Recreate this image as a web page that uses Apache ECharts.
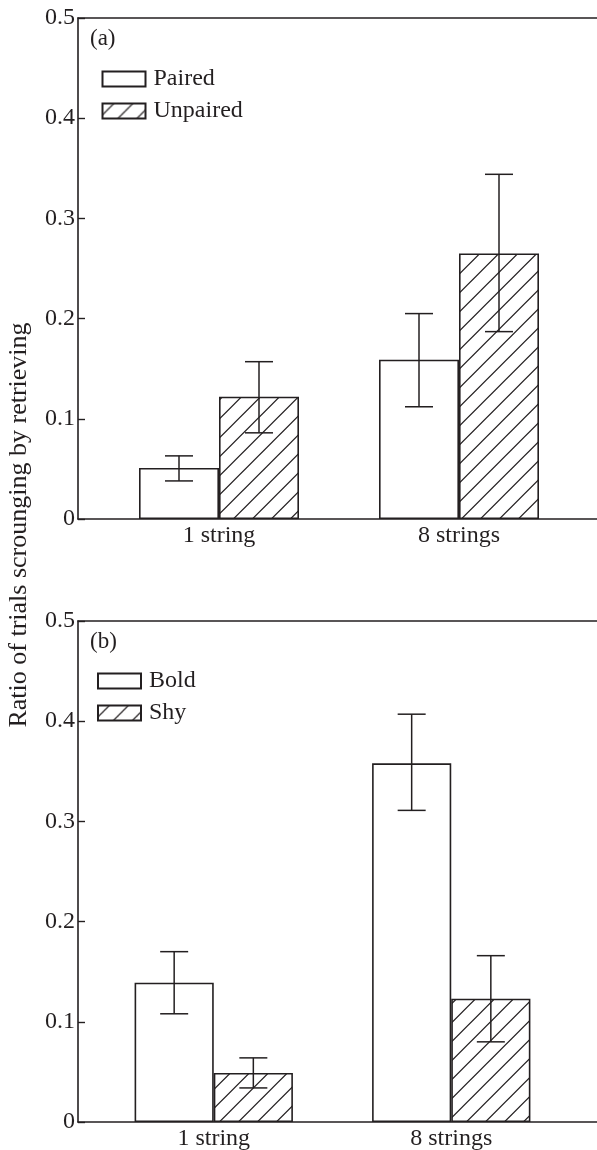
<!DOCTYPE html>
<html><head><meta charset="utf-8">
<script src="https://cdn.jsdelivr.net/npm/echarts@6/dist/echarts.min.js"></script>
<style>html,body{margin:0;padding:0;background:#fff}#c{width:597px;height:1150px}</style>
</head><body><div id="c"></div>
<script>
// ---- data ----
const categories = ['1 string', '8 strings'];
const pairedMean   = [0.051, 0.159];
const pairedLow    = [0.038, 0.112];
const pairedHigh   = [0.063, 0.205];
const unpairedMean = [0.122, 0.265];
const unpairedLow  = [0.086, 0.187];
const unpairedHigh = [0.157, 0.344];
const boldMean = [0.139, 0.358];
const boldLow  = [0.108, 0.311];
const boldHigh = [0.170, 0.407];
const shyMean  = [0.049, 0.123];
const shyLow   = [0.034, 0.080];
const shyHigh  = [0.064, 0.166];
const yMin = 0, yMax = 0.5, yInterval = 0.1;
const panelLabels = ['(a)', '(b)'];
const yTitle = 'Ratio of trials scrounging by retrieving';

// ---- style ----
const INK = '#231f20';
const FONT = '"Liberation Serif", "Times New Roman", serif';
const BAR_RATIO = 1 / 3;

function hatchCanvas() {
  const s = 19, k = 11.3;
  const c = document.createElement('canvas');
  c.width = s; c.height = s;
  const g = c.getContext('2d');
  g.fillStyle = '#fff'; g.fillRect(0, 0, s, s);
  g.strokeStyle = INK; g.lineWidth = 1.2;
  g.beginPath();
  [k - s, k, k + s, k + 2 * s].forEach(off => {
    g.moveTo(-3, off + 3); g.lineTo(off + 3, -3);
  });
  g.stroke();
  return c;
}
const hatch = { image: hatchCanvas(), repeat: 'repeat' };

const panels = [
  { top: 18, barLeft: 99, barWidth: 480, names: ['Paired', 'Unpaired'],
    mean: [pairedMean, unpairedMean], low: [pairedLow, unpairedLow], high: [pairedHigh, unpairedHigh],
    legendLeft: 101.5, legendTop: 67 },
  { top: 621, barLeft: 95, barWidth: 475, names: ['Bold', 'Shy'],
    mean: [boldMean, shyMean], low: [boldLow, shyLow], high: [boldHigh, shyHigh],
    legendLeft: 97, legendTop: 669 }
];
const PANEL_H = 501;

const grid = [], xAxis = [], yAxis = [], series = [], legend = [], graphic = [];
panels.forEach((p, pi) => {
  const gBars = grid.length;
  grid.push({ left: p.barLeft, width: p.barWidth, top: p.top, height: PANEL_H, outerBoundsMode: 'none' });
  const gFrame = grid.length;
  grid.push({ left: 78, right: 0, top: p.top, height: PANEL_H, outerBoundsMode: 'none' });

  const xBars = xAxis.length;
  xAxis.push({ gridIndex: gBars, type: 'category', data: categories,
    axisLine: { show: false }, axisTick: { show: false },
    axisLabel: { fontFamily: FONT, fontSize: 24, color: INK, margin: 5 } });
  ['bottom', 'top'].forEach(pos => {
    xAxis.push({ gridIndex: gFrame, type: 'value', min: 0, max: 1, position: pos,
      axisLine: { show: true, lineStyle: { color: INK, width: 1.6 } },
      axisTick: { show: false }, axisLabel: { show: false }, splitLine: { show: false } });
  });

  const yBars = yAxis.length;
  yAxis.push({ gridIndex: gBars, type: 'value', min: yMin, max: yMax, interval: yInterval, show: false });
  yAxis.push({ gridIndex: gFrame, type: 'value', min: yMin, max: yMax, interval: yInterval,
    axisLine: { show: true, lineStyle: { color: INK, width: 1.6 } },
    axisTick: { show: true, inside: true, length: 7, lineStyle: { color: INK, width: 1.4 } },
    axisLabel: { fontFamily: FONT, fontSize: 24, color: INK, margin: 3 },
    splitLine: { show: false } });

  p.names.forEach((name, si) => {
    series.push({ type: 'bar', name, xAxisIndex: xBars, yAxisIndex: yBars,
      data: p.mean[si], barWidth: (BAR_RATIO * 100) + '%', barGap: '0%',
      itemStyle: { color: si === 0 ? '#ffffff' : hatch, borderColor: INK, borderWidth: 1.6 },
      emphasis: { disabled: true }, silent: true, z: 2 });
  });
  p.names.forEach((name, si) => {
    const side = si === 0 ? -1 : 1;
    const data = categories.map((c, i) => [i, p.low[si][i], p.high[si][i]]);
    series.push({ type: 'custom', name: name + ' SE', xAxisIndex: xBars, yAxisIndex: yBars,
      data, silent: true, z: 5,
      renderItem: (params, api) => {
        const band = api.size([1, 0])[0];
        const cx = api.coord([api.value(0), 0])[0] + side * band * BAR_RATIO / 2;
        const yl = api.coord([api.value(0), api.value(1)])[1];
        const yh = api.coord([api.value(0), api.value(2)])[1];
        const hw = 14;
        const st = { stroke: INK, lineWidth: 1.5 };
        return { type: 'group', children: [
          { type: 'line', shape: { x1: cx, y1: yl, x2: cx, y2: yh }, style: st },
          { type: 'line', shape: { x1: cx - hw, y1: yl, x2: cx + hw, y2: yl }, style: st },
          { type: 'line', shape: { x1: cx - hw, y1: yh, x2: cx + hw, y2: yh }, style: st }
        ] };
      } });
  });

  legend.push({ data: p.names, orient: 'vertical', left: p.legendLeft, top: p.legendTop,
    itemWidth: 43, itemHeight: 15, itemGap: 8, padding: 0, icon: 'rect', selectedMode: false,
    textStyle: { fontFamily: FONT, fontSize: 24, color: INK, lineHeight: 24, padding: [0, 0, 0, 3] } });

  graphic.push({ type: 'text', left: 90, top: p.top + 9,
    style: { text: panelLabels[pi], font: '23px ' + FONT, fill: INK } });
});

graphic.push({ type: 'text', x: 19, y: 525, rotation: Math.PI / 2,
  style: { text: yTitle, font: '26px ' + FONT, fill: INK, align: 'center', verticalAlign: 'middle' } });

const chart = echarts.init(document.getElementById('c'), null, { renderer: 'canvas' });
chart.setOption({ animation: false, backgroundColor: '#fff', grid, xAxis, yAxis, series, legend, graphic });
</script>
</body></html>
